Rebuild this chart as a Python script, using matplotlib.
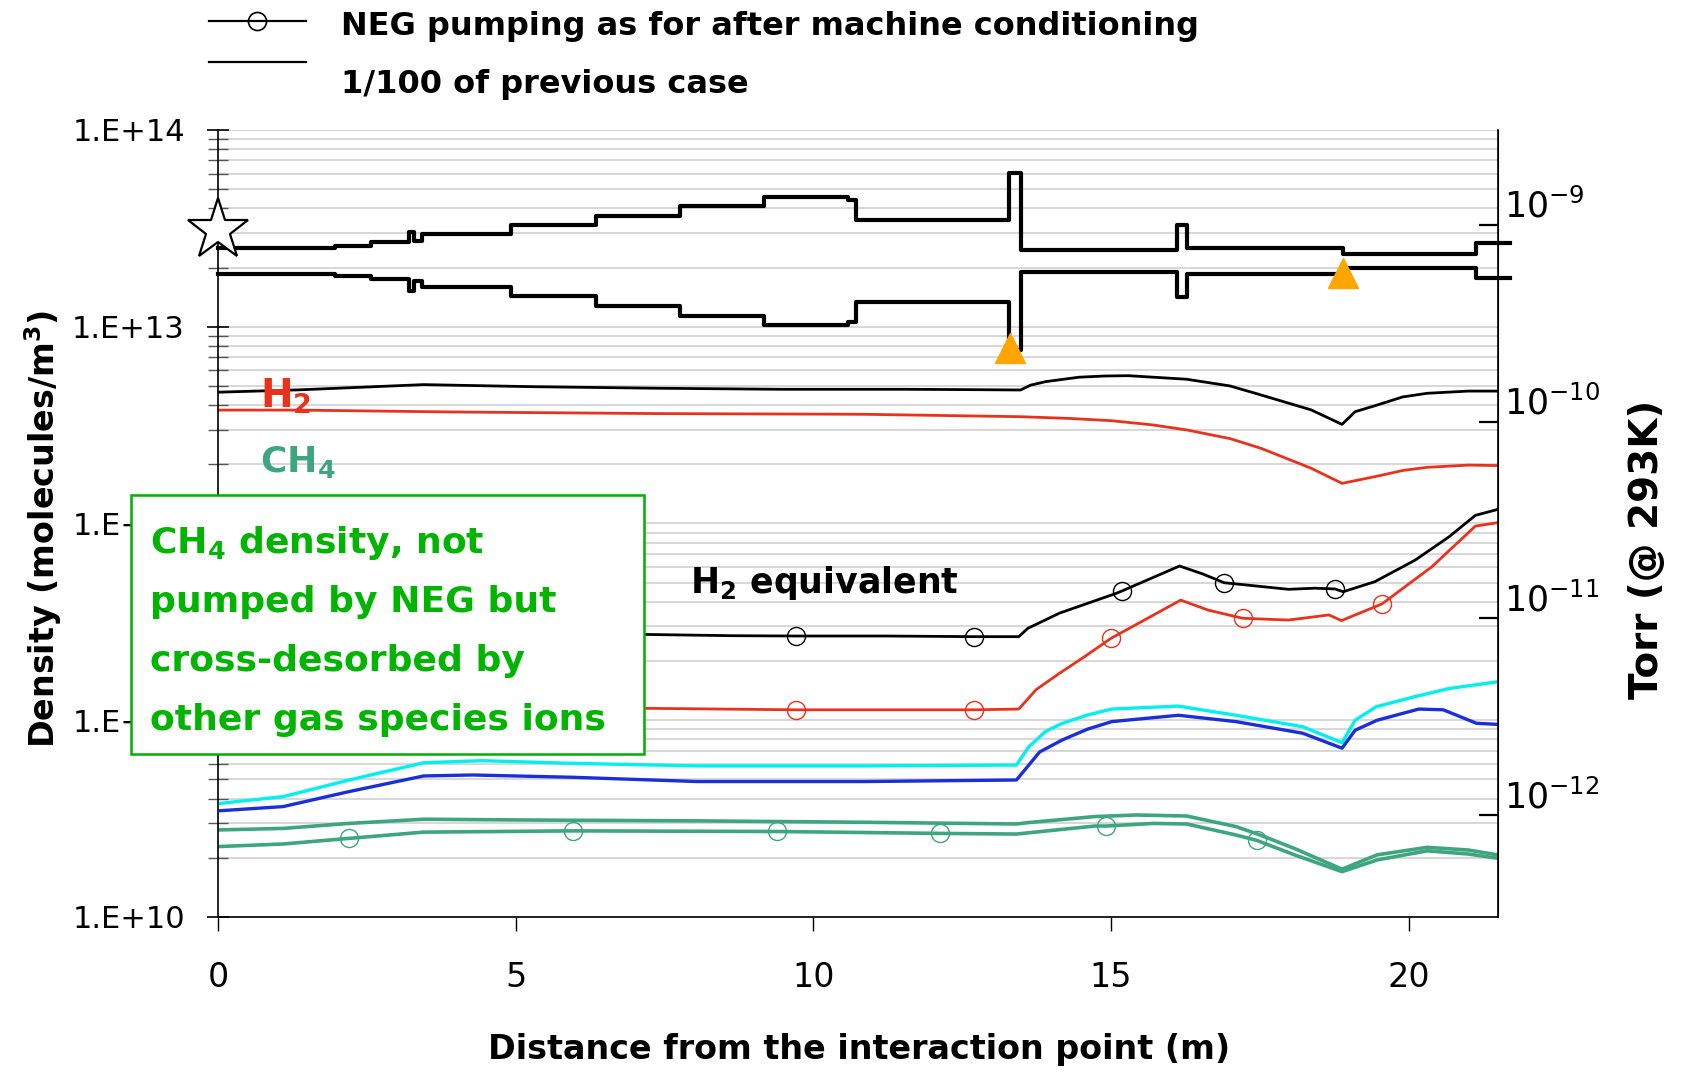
import numpy as np
import matplotlib.pyplot as plt
from matplotlib.lines import Line2D
from matplotlib.patches import Rectangle
from matplotlib.ticker import LogLocator, NullFormatter, NullLocator

plt.rcParams['font.family'] = ['DejaVu Sans']
plt.rcParams['mathtext.fontset'] = 'dejavusans'

W, H = 1682, 1072

# beam pipe outline, drawn as steps (upper and lower edge)
pipe_x = [0, 1.97, 2.56, 3.21, 3.29, 3.42, 4.92, 6.34, 7.75, 9.17, 10.58, 10.71,
          13.28, 13.49, 16.11, 16.27, 18.89, 21.13, 21.7]
pipe_top = [2.52e13, 2.57e13, 2.70e13, 3.04e13, 2.74e13, 2.96e13, 3.29e13, 3.67e13,
            4.11e13, 4.58e13, 4.41e13, 3.50e13, 6.07e13, 2.45e13, 3.29e13, 2.52e13,
            2.34e13, 2.66e13, 2.66e13]
pipe_bot = [1.85e13, 1.81e13, 1.75e13, 1.52e13, 1.71e13, 1.60e13, 1.43e13, 1.28e13,
            1.14e13, 1.02e13, 1.06e13, 1.33e13, 7.62e12, 1.90e13, 1.42e13, 1.85e13,
            1.98e13, 1.76e13, 1.76e13]
star_x, star_y = [0.0], [3.1e13]
tri_x, tri_y = [13.30, 18.89], [7.76e12, 1.87e13]

# 1/100 of NEG pumping (no markers)
h2eq_weak_x = [0.00, 1.37, 3.45, 5.26, 7.35, 9.44, 11.53, 12.65, 13.48, 13.65, 13.90, 14.46,
               14.90, 15.29, 16.27, 17.00, 17.52, 18.36, 18.88, 19.10, 19.47, 19.90, 20.31,
               21.00, 21.50]
h2eq_weak_y = [4.65e12, 4.78e12, 5.08e12, 4.96e12, 4.87e12, 4.81e12, 4.81e12, 4.79e12, 4.77e12,
               5.05e12, 5.26e12, 5.54e12, 5.62e12, 5.64e12, 5.41e12, 5.00e12, 4.50e12, 3.78e12,
               3.19e12, 3.70e12, 4.00e12, 4.40e12, 4.59e12, 4.71e12, 4.71e12]
h2_weak_x = [0.00, 1.37, 3.87, 7.35, 10.84, 13.48, 14.30, 15.01, 15.70, 16.27, 17.00, 17.52,
             18.36, 18.88, 19.47, 19.90, 20.31, 21.00, 21.50]
h2_weak_y = [3.77e12, 3.77e12, 3.69e12, 3.62e12, 3.59e12, 3.49e12, 3.42e12, 3.33e12, 3.17e12,
             2.99e12, 2.70e12, 2.41e12, 1.91e12, 1.60e12, 1.74e12, 1.86e12, 1.93e12, 1.98e12,
             1.97e12]
ch4_weak_x = [0.00, 1.09, 2.20, 3.45, 5.26, 8.05, 10.84, 13.41, 13.62, 14.73, 15.43, 16.27,
              17.10, 17.52, 18.08, 18.88, 19.47, 20.31, 21.00, 21.49]
ch4_weak_y = [2.77e10, 2.82e10, 2.99e10, 3.14e10, 3.11e10, 3.08e10, 3.03e10, 2.97e10, 3.02e10,
              3.24e10, 3.30e10, 3.26e10, 2.88e10, 2.60e10, 2.23e10, 1.75e10, 2.07e10, 2.26e10,
              2.19e10, 2.07e10]
cyan_x = [0.04, 1.09, 2.20, 3.45, 4.43, 5.96, 8.05, 10.84, 13.41, 13.62, 13.90, 14.18, 14.59,
          15.01, 16.13, 17.10, 18.22, 18.88, 19.10, 19.45, 20.11, 20.68, 21.50]
cyan_y = [3.78e10, 4.09e10, 4.97e10, 6.08e10, 6.23e10, 6.04e10, 5.86e10, 5.86e10, 5.92e10,
          7.34e10, 8.77e10, 9.65e10, 1.06e11, 1.14e11, 1.18e11, 1.06e11, 9.27e10, 7.69e10,
          1.00e11, 1.17e11, 1.32e11, 1.45e11, 1.57e11]
blue_x = [0.04, 1.09, 2.20, 3.45, 4.27, 5.96, 8.05, 10.84, 13.41, 13.55, 13.80, 14.18, 14.60,
          15.01, 16.13, 17.10, 18.22, 18.88, 19.10, 19.47, 20.17, 20.58, 21.14, 21.49]
blue_y = [3.47e10, 3.64e10, 4.34e10, 5.21e10, 5.27e10, 5.13e10, 4.88e10, 4.88e10, 4.97e10,
          5.59e10, 6.90e10, 7.94e10, 9.00e10, 9.84e10, 1.06e11, 9.84e10, 8.59e10, 7.21e10,
          8.90e10, 1.00e11, 1.14e11, 1.13e11, 9.65e10, 9.53e10]

# NEG pumping as after conditioning (open circles)
h2eq_neg_x = [0.00, 7.17, 8.63, 9.70, 11.23, 12.70, 13.45, 13.60, 14.13, 15.09, 15.19, 16.15,
              16.54, 16.90, 17.98, 18.42, 18.76, 18.90, 19.43, 20.11, 20.68, 21.12, 21.50]
h2eq_neg_y = [2.75e11, 2.73e11, 2.69e11, 2.68e11, 2.68e11, 2.66e11, 2.66e11, 2.93e11, 3.50e11,
              4.42e11, 4.55e11, 6.08e11, 5.54e11, 5.00e11, 4.63e11, 4.69e11, 4.65e11, 4.50e11,
              5.06e11, 6.52e11, 8.57e11, 1.10e12, 1.18e12]
h2eq_neg_marks = [3, 5, 10, 13, 16]
h2_neg_x = [0.00, 7.17, 9.70, 12.70, 13.45, 13.74, 14.13, 14.55, 15.00, 16.17, 16.63, 17.21,
            17.98, 18.66, 18.87, 19.55, 20.39, 21.12, 21.50]
h2_neg_y = [1.16e11, 1.15e11, 1.13e11, 1.13e11, 1.14e11, 1.43e11, 1.73e11, 2.10e11, 2.61e11,
            4.08e11, 3.63e11, 3.30e11, 3.23e11, 3.43e11, 3.21e11, 3.90e11, 6.03e11, 9.70e11,
            1.01e12]
h2_neg_marks = [2, 3, 8, 11, 15]
ch4_neg_x = [0.00, 1.09, 2.20, 3.45, 5.96, 9.38, 12.13, 13.41, 13.62, 14.73, 14.92, 15.71,
             16.27, 17.10, 17.45, 18.08, 18.88, 19.47, 20.31, 21.00, 21.49]
ch4_neg_y = [2.28e10, 2.35e10, 2.51e10, 2.70e10, 2.74e10, 2.72e10, 2.66e10, 2.64e10, 2.68e10,
             2.90e10, 2.90e10, 2.99e10, 2.97e10, 2.61e10, 2.45e10, 2.07e10, 1.70e10, 1.95e10,
             2.17e10, 2.09e10, 1.99e10]
ch4_neg_marks = [2, 4, 5, 6, 10, 14]

ytick_vals = [1e10, 1e11, 1e12, 1e13, 1e14]
ytick_labels = ['1.E+10', '1.E+11', '1.E+12', '1.E+13', '1.E+14']
xtick_vals = [0, 5, 10, 15, 20]
torr_ticks = [1e-12, 1e-11, 1e-10, 1e-9]
torr_labels = ['$10^{-12}$', '$10^{-11}$', '$10^{-10}$', '$10^{-9}$']
TORR_TO_N = 3.296e22   # molecules/m^3 per Torr at 293 K

RED = '#e8321c'
GREEN = '#3ea67e'
BOXGREEN = '#00b000'

fig = plt.figure(figsize=(W / 100, H / 100), dpi=100)
ax = fig.add_axes([218.2 / W, 1 - 917 / H, (1498 - 218.2) / W, (917 - 130) / H])
ax.set_yscale('log')
ax.set_xlim(0, 21.5)
ax.set_ylim(1e10, 1e14)

# pipe outline
ax.step(pipe_x, pipe_top, where='post', color='black', lw=3, clip_on=False, zorder=4)
ax.step(pipe_x, pipe_bot, where='post', color='black', lw=3, clip_on=False, zorder=4)
ax.plot(star_x, star_y, marker='*', ms=46, mfc='white', mec='black', mew=1.6,
        ls='none', clip_on=False, zorder=6)
ax.plot(tri_x, tri_y, marker='^', ms=21, color='#ffa500', ls='none', zorder=6)

# density profiles
ax.plot(h2eq_weak_x, h2eq_weak_y, color='black', lw=2)
ax.plot(h2_weak_x, h2_weak_y, color=RED, lw=2)
ax.plot(ch4_weak_x, ch4_weak_y, color=GREEN, lw=2.6)
ax.plot(cyan_x, cyan_y, color='#00f0f0', lw=2.4)
ax.plot(blue_x, blue_y, color='#1a2fd8', lw=2.4)
mk = dict(marker='o', ms=13, mfc='none', mew=1.0)
ax.plot(h2eq_neg_x, h2eq_neg_y, color='black', lw=2, markevery=h2eq_neg_marks, **mk)
ax.plot(h2_neg_x, h2_neg_y, color=RED, lw=2, markevery=h2_neg_marks, **mk)
ax.plot(ch4_neg_x, ch4_neg_y, color=GREEN, lw=2.6, markevery=ch4_neg_marks, **mk)

# axes styling
ax.set_yticks(ytick_vals, ytick_labels)
ax.yaxis.set_minor_locator(LogLocator(base=10, subs=np.arange(2, 10), numticks=100))
ax.yaxis.set_minor_formatter(NullFormatter())
ax.set_xticks(xtick_vals)
ax.tick_params(axis='y', which='major', direction='inout', length=16, width=1.2,
               labelsize=22, pad=16)
ax.tick_params(axis='y', which='minor', direction='inout', length=14, width=1.0,
               color='#555555')
ax.tick_params(axis='x', which='major', direction='out', length=10, width=1.0,
               labelsize=24, pad=22)
ax.yaxis.grid(True, which='both', color='#d4d4d4', lw=1.3)
ax.set_axisbelow(True)
ax.spines['top'].set_visible(False)
for s in ['left', 'right', 'bottom']:
    ax.spines[s].set_linewidth(1.2)

sec = ax.secondary_yaxis('right', functions=(lambda n: n / TORR_TO_N,
                                             lambda p: p * TORR_TO_N))
sec.set_yticks(torr_ticks, torr_labels)
sec.yaxis.set_minor_locator(NullLocator())
sec.tick_params(axis='y', direction='in', length=14, width=1.6, labelsize=25, pad=4)
for lab in sec.get_yticklabels():
    lab.set_verticalalignment('bottom')

# texts on the plot
ax.text(0.70, 3.9e12, r'H$_\mathbf{2}$', color=RED, fontsize=28, fontweight='bold',
        va='baseline', zorder=7)
ax.text(0.70, 1.83e12, r'CH$_\mathbf{4}$', color=GREEN, fontsize=26, fontweight='bold',
        va='baseline', zorder=7)
ax.text(7.93, 4.44e11, r'H$_\mathbf{2}$ equivalent', color='black', fontsize=25,
        fontweight='bold', va='baseline', zorder=7)

fig.text(43 / W, 1 - 529 / H, r'Density (molecules/m$^\mathbf{3}$)', rotation=90,
         ha='center', va='center', fontsize=24, fontweight='bold')
fig.text(1647 / W, 1 - 549 / H, 'Torr (@ 293K)', rotation=90, ha='center', va='center',
         fontsize=28, fontweight='bold')
fig.text(859 / W, 1 - 1050 / H, 'Distance from the interaction point (m)', ha='center',
         va='center', fontsize=24, fontweight='bold')

# green annotation box, drawn over the axis
fig.add_artist(Rectangle((131 / W, 1 - 754 / H), 513 / W, 259.5 / H, transform=fig.transFigure,
                         facecolor='white', edgecolor=BOXGREEN, lw=1.8, zorder=5))
box_lines = [r'CH$_\mathbf{4}$ density, not', 'pumped by NEG but', 'cross-desorbed by',
             'other gas species ions']
for i, txt in enumerate(box_lines):
    fig.text(150 / W, 1 - (553 + 59 * i) / H, txt, color='#00b400', fontsize=26,
             fontweight='bold', va='baseline', ha='left', zorder=6)

# legend keys at the top
fig.add_artist(Line2D([209 / W, 306 / W], [1 - 21 / H] * 2, color='black', lw=1.6,
                      transform=fig.transFigure))
fig.add_artist(Line2D([257 / W], [1 - 21 / H], marker='o', ms=13, mfc='none', mec='black',
                      mew=1.2, transform=fig.transFigure))
fig.add_artist(Line2D([209 / W, 306 / W], [1 - 62 / H] * 2, color='black', lw=1.6,
                      transform=fig.transFigure))
fig.text(341 / W, 1 - 26 / H, 'NEG pumping as for after machine conditioning', fontsize=23,
         fontweight='bold', va='center')
fig.text(341 / W, 1 - 85 / H, '1/100 of previous case', fontsize=23, fontweight='bold',
         va='center')

fig.savefig('out.png', dpi=100)
